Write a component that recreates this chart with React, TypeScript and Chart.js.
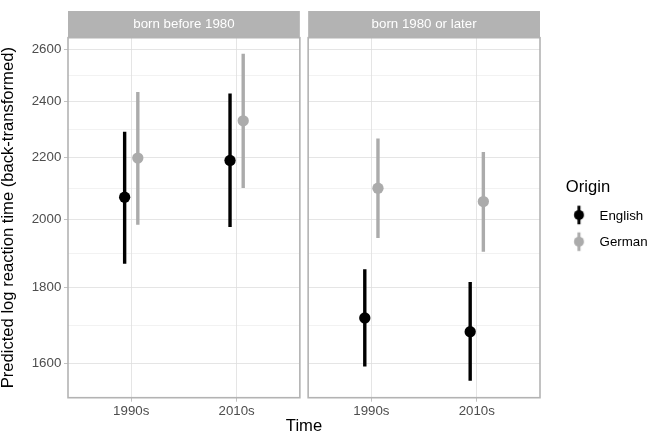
import React, { useEffect, useRef } from 'react';
import { Chart, registerables } from 'chart.js';

Chart.register(...registerables);

// ---------- data ----------
const panels = ['born before 1980', 'born 1980 or later'];
const times = ['1990s', '2010s'];
const origins = ['English', 'German'];
const originColors = ['#000000', '#ABABAB'];
// per panel: [1990s, 2010s]
const englishEst = [[2069, 2190], [1717, 1681]];
const englishLow = [[1867, 1976], [1593, 1558]];
const englishHigh = [[2289, 2428], [1851, 1815]];
const germanEst = [[2198, 2328], [2098, 2055]];
const germanLow = [[1983, 2099], [1943, 1902]];
const germanHigh = [[2434, 2582], [2265, 2219]];
const yTicks = [1600, 1800, 2000, 2200, 2400, 2600];
const yLimits = [1518, 2647];

// ---------- style / layout ----------
const FONT = "'Liberation Sans', Arial, Helvetica, sans-serif";
const GRID = '#DEDEDE';
const BORDER = '#B3B3B3';
const TICK_TEXT = '#4D4D4D';
const DODGE = 0.0625;
const PANEL_W = 231.85;
const GAP_W = 8.3;
const STRIP_TOP = 11;
const TOP_PAD = 37.7;
const Y_AXIS_W = 68;
const X_AXIS_H = 20.3;

const series = [
  { est: englishEst, low: englishLow, high: englishHigh },
  { est: germanEst, low: germanLow, high: germanHigh },
];

// minor gridlines halfway (in log space) between major ticks
const yMinor = yTicks.slice(1).map((v, i) => Math.sqrt(v * yTicks[i]));
const yAll = [...yTicks, ...yMinor].sort((a, b) => a - b);

function makeGlyph(color: string) {
  const c = document.createElement('canvas');
  c.width = 40;
  c.height = 24;
  const g = c.getContext('2d')!;
  const cx = 25.8;
  const cy = 10.9;
  g.strokeStyle = color;
  g.lineWidth = 3;
  g.beginPath();
  g.moveTo(cx, cy - 9.3);
  g.lineTo(cx, cy + 9.3);
  g.stroke();
  g.fillStyle = color;
  g.beginPath();
  g.arc(cx, cy, 5, 0, Math.PI * 2);
  g.fill();
  return c;
}

const facetPlugin = {
  id: 'facets',
  afterLayout(chart: any) {
    // let legend labels extend to the canvas edge (no clipping)
    if (chart.legend) chart.legend.right = chart.width;
  },
  beforeDatasetsDraw(chart: any) {
    const { ctx, chartArea } = chart;
    const a = chart.scales.xa;
    const b = chart.scales.xb;
    ctx.save();
    ctx.fillStyle = '#FFFFFF';
    ctx.fillRect(a.right, chartArea.top - 1, b.left - a.right, chartArea.bottom - chartArea.top + 2);
    ctx.restore();
  },
  afterDatasetsDraw(chart: any) {
    const { ctx, chartArea } = chart;
    [chart.scales.xa, chart.scales.xb].forEach((s: any, p: number) => {
      ctx.save();
      ctx.fillStyle = BORDER;
      ctx.fillRect(s.left, STRIP_TOP, s.right - s.left, chartArea.top - STRIP_TOP);
      ctx.strokeStyle = BORDER;
      ctx.lineWidth = 1.6;
      ctx.strokeRect(s.left, chartArea.top, s.right - s.left, chartArea.bottom - chartArea.top);
      ctx.fillStyle = '#FFFFFF';
      ctx.font = `13.3px ${FONT}`;
      ctx.textAlign = 'center';
      ctx.textBaseline = 'middle';
      ctx.fillText(panels[p], (s.left + s.right) / 2, (STRIP_TOP + chartArea.top) / 2);
      ctx.restore();
    });
  },
};

function xPanelScale(stackWeight: number) {
  return {
    type: 'linear',
    axis: 'x',
    position: 'bottom',
    stack: 'facet',
    stackWeight,
    min: 0.4,
    max: 2.6,
    bounds: 'data',
    offset: false,
    afterBuildTicks: (s: any) => {
      s.ticks = times.map((_, i) => ({ value: i + 1 }));
    },
    afterFit: (s: any) => {
      s.height = X_AXIS_H;
    },
    ticks: {
      autoSkip: false,
      maxRotation: 0,
      padding: 2,
      color: TICK_TEXT,
      font: { family: FONT, size: 13.3 },
      callback: (_v: any, i: number) => times[i],
    },
    grid: {
      color: GRID,
      lineWidth: 0.8,
      drawTicks: true,
      tickLength: 4,
      tickColor: BORDER,
      tickWidth: 0.8,
    },
    border: { display: false },
  };
}

export default function App() {
  const ref = useRef<HTMLCanvasElement>(null);

  useEffect(() => {
    const canvas = ref.current;
    if (!canvas) return;
    const glyphs = originColors.map((c) => makeGlyph(c));

    const datasets: any[] = [];
    panels.forEach((_, p) => {
      series.forEach((s, o) => {
        const off = (o === 0 ? -1 : 1) * DODGE;
        const color = originColors[o];
        const axis = p === 0 ? 'xa' : 'xb';
        const ranges: any[] = [];
        times.forEach((_t, t) => {
          const x = t + 1 + off;
          ranges.push({ x, y: s.low[p][t] }, { x, y: s.high[p][t] }, { x, y: null });
        });
        datasets.push({
          type: 'line',
          label: origins[o],
          data: ranges,
          xAxisID: axis,
          yAxisID: 'y',
          borderColor: color,
          backgroundColor: color,
          borderWidth: 3.4,
          borderCapStyle: 'butt',
          pointRadius: 0,
          pointHoverRadius: 0,
          showLine: true,
          spanGaps: false,
          fill: false,
          tension: 0,
          order: 1,
        });
        datasets.push({
          type: 'scatter',
          label: origins[o],
          data: times.map((_t, t) => ({ x: t + 1 + off, y: s.est[p][t] })),
          xAxisID: axis,
          yAxisID: 'y',
          pointRadius: 5.65,
          pointHoverRadius: 5.65,
          pointBorderWidth: 0,
          pointBackgroundColor: color,
          backgroundColor: color,
          borderColor: color,
          order: 0,
        });
      });
    });

    const chart = new Chart(canvas, {
      type: 'scatter',
      data: { datasets },
      options: {
        animation: false,
        responsive: false,
        devicePixelRatio: 1,
        events: [],
        layout: { padding: { top: TOP_PAD, right: 13, bottom: 0, left: 0 } },
        scales: {
          xa: xPanelScale(PANEL_W),
          xgap: {
            type: 'linear',
            axis: 'x',
            position: 'bottom',
            stack: 'facet',
            stackWeight: GAP_W,
            min: 0,
            max: 1,
            bounds: 'data',
            afterFit: (s: any) => {
              s.height = X_AXIS_H;
            },
            ticks: { display: false },
            grid: { display: false },
            border: { display: false },
          },
          xb: xPanelScale(PANEL_W),
          y: {
            type: 'logarithmic',
            position: 'left',
            min: yLimits[0],
            max: yLimits[1],
            bounds: 'data',
            afterBuildTicks: (s: any) => {
              s.ticks = yAll.map((v) => ({ value: v, minor: !yTicks.includes(v) }));
            },
            afterFit: (s: any) => {
              s.width = Y_AXIS_W;
            },
            ticks: {
              autoSkip: false,
              padding: 2.7,
              color: TICK_TEXT,
              font: { family: FONT, size: 13.3 },
              callback: (v: any) => (yTicks.includes(v) ? String(v) : ''),
            },
            grid: {
              color: GRID,
              lineWidth: (c: any) => (c.tick && c.tick.minor ? 0.4 : 0.8),
              drawTicks: true,
              tickLength: 4,
              tickWidth: 0.8,
              tickColor: (c: any) => (c.tick && c.tick.minor ? 'rgba(0,0,0,0)' : BORDER),
            },
            border: { display: false },
            title: {
              display: true,
              text: 'Predicted log reaction time (back-transformed)',
              color: '#000000',
              font: { family: FONT, size: 16.6, lineHeight: 1 },
              padding: 0,
            },
          },
        } as any,
        plugins: {
          tooltip: { enabled: false },
          title: {
            display: true,
            position: 'bottom',
            fullSize: false,
            align: 'center',
            text: 'Time',
            color: '#000000',
            font: { family: FONT, size: 16.6, lineHeight: 1, weight: 'normal' },
            padding: { top: 0, bottom: 0.4 },
          } as any,
          legend: {
            display: true,
            position: 'right',
            align: 'center',
            fullSize: false,
            maxWidth: 96,
            title: {
              display: true,
              text: 'Origin',
              color: '#000000',
              position: 'center',
              font: { family: FONT, size: 16.6, lineHeight: 1 },
              padding: { top: 6.65, bottom: 0.25 },
            },
            labels: {
              usePointStyle: true,
              pointStyleWidth: 39.55,
              padding: 13.4,
              color: '#000000',
              font: { family: FONT, size: 13.3 },
              generateLabels: () =>
                origins.map((name, o) => ({
                  text: name,
                  pointStyle: glyphs[o],
                  fillStyle: originColors[o],
                  strokeStyle: originColors[o],
                  fontColor: '#000000',
                  lineWidth: 0,
                  hidden: false,
                  datasetIndex: o * 2 + 1,
                })),
            },
          } as any,
        },
      },
      plugins: [facetPlugin],
    } as any);

    return () => chart.destroy();
  }, []);

  return (
    <div style={{ position: 'absolute', left: 0, top: 0, width: 649, height: 435, background: '#FFFFFF' }}>
      <canvas ref={ref} width={649} height={435} style={{ display: 'block', width: 649, height: 435 }} />
    </div>
  );
}
